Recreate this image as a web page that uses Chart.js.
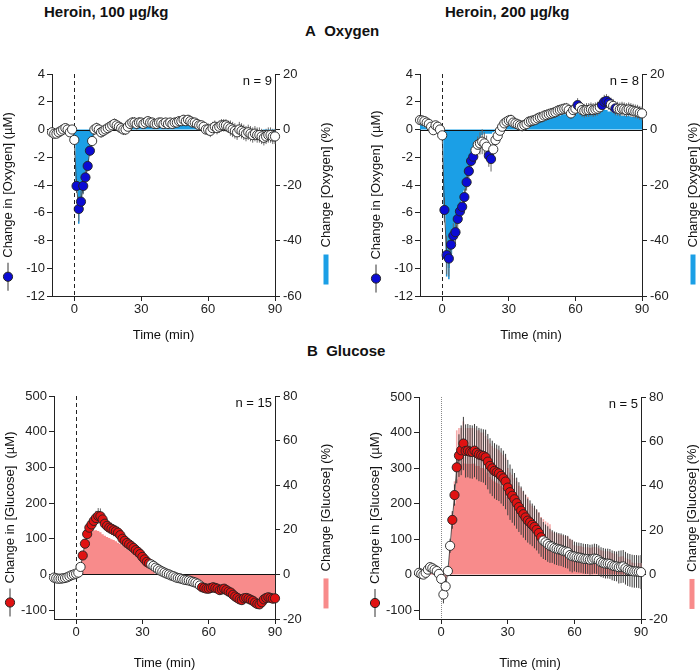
<!DOCTYPE html>
<html>
<head>
<meta charset="utf-8">
<script src="https://cdn.jsdelivr.net/npm/chart.js@4.4.0/dist/chart.umd.min.js"></script>
<style>
  body { margin: 0; background: #fff; font-family: "Liberation Sans", Arial, sans-serif; }
  #wrap { position: relative; width: 700px; height: 672px; overflow: hidden; }
  canvas { position: absolute; }
  .hd { position: absolute; font-weight: bold; font-size: 15px; color: #111; white-space: nowrap; }
</style>
</head>
<body>
<div id="wrap">
  <div class="hd" style="left:44px;top:3px">Heroin, 100 µg/kg</div>
  <div class="hd" style="left:445px;top:3px">Heroin, 200 µg/kg</div>
  <div class="hd" style="left:305px;top:22px">A&nbsp;&nbsp;Oxygen</div>
  <div class="hd" style="left:307px;top:342px">B&nbsp;&nbsp;Glucose</div>
  <canvas id="oxy100" width="350" height="290" style="left:0;top:60px"></canvas>
  <canvas id="oxy200" width="350" height="290" style="left:350px;top:60px"></canvas>
  <canvas id="glu100" width="350" height="312" style="left:0;top:360px"></canvas>
  <canvas id="glu200" width="350" height="312" style="left:350px;top:360px"></canvas>
</div>
<script>
// Zeit (min), 1-min Raster
const minutes = [
  -10,-9,-8,-7,-6,-5,-4,-3,-2,-1,
  0,1,2,3,4,5,6,7,8,9,
  10,11,12,13,14,15,16,17,18,19,
  20,21,22,23,24,25,26,27,28,29,
  30,31,32,33,34,35,36,37,38,39,
  40,41,42,43,44,45,46,47,48,49,
  50,51,52,53,54,55,56,57,58,59,
  60,61,62,63,64,65,66,67,68,69,
  70,71,72,73,74,75,76,77,78,79,
  80,81,82,83,84,85,86,87,88,89,
  90];

// Achsen-Ticks
const timeTicks = [0, 30, 60, 90];
const oxyTicks = [-12, -10, -8, -6, -4, -2, 0, 2, 4];
const oxyPctTicks = [-60, -40, -20, 0, 20];
const gluTicks = [-100, 0, 100, 200, 300, 400, 500];
const gluPctTicks = [-20, 0, 20, 40, 60, 80];

// Sauerstoff, 100 µg/kg (µM, SEM, %)
const oxy100Mean = [
  -0.2,-0.3,-0.3,-0.2,-0.1,0.0,0.1,0.0,-0.2,0.0,
  -0.75,-4.07,-5.73,-5.2,-4.07,-3.45,-2.63,-1.53,-0.83,0.0,
  0.1,0.0,-0.2,-0.1,0.0,0.1,0.2,0.3,0.4,0.3,
  0.2,0.1,0.0,0.0,0.2,0.4,0.5,0.5,0.4,0.5,
  0.5,0.4,0.5,0.6,0.5,0.5,0.4,0.4,0.5,0.5,
  0.4,0.5,0.4,0.5,0.4,0.5,0.5,0.6,0.6,0.7,
  0.6,0.7,0.6,0.5,0.5,0.4,0.3,0.3,0.2,0.0,
  0.0,-0.1,0.1,0.2,0.1,0.2,0.3,0.3,0.3,0.2,
  0.1,0.0,-0.1,-0.2,0.0,-0.1,-0.2,-0.3,-0.2,-0.3,
  -0.4,-0.3,-0.4,-0.4,-0.5,-0.6,-0.5,-0.4,-0.4,-0.5,
  -0.5];
const oxy100Sem = [
  0.2,0.2,0.2,0.2,0.2,0.2,0.2,0.2,0.2,0.2,
  0.3,0.5,0.9,0.8,0.6,0.5,0.4,0.4,0.3,0.4,
  0.4,0.4,0.4,0.4,0.4,0.4,0.4,0.4,0.4,0.4,
  0.4,0.4,0.4,0.4,0.4,0.4,0.4,0.4,0.4,0.4,
  0.35,0.35,0.35,0.35,0.35,0.35,0.35,0.35,0.35,0.35,
  0.35,0.35,0.35,0.35,0.35,0.35,0.35,0.35,0.35,0.35,
  0.35,0.35,0.35,0.35,0.35,0.35,0.35,0.35,0.35,0.35,
  0.45,0.45,0.45,0.45,0.45,0.45,0.45,0.45,0.45,0.45,
  0.55,0.55,0.55,0.55,0.55,0.55,0.55,0.55,0.55,0.55,
  0.55,0.55,0.55,0.55,0.55,0.55,0.55,0.55,0.55,0.55,
  0.55];
const oxy100Pct = [
  0,0,0,0,0,0,0,0,0,0,
  -4,-19,-27,-25,-20,-16,-12,-8,-3,-1,
  0,0,0,0,0,0,0,0,0,0,
  0,0,0,0,0,0,0.5,0.5,1,1,
  1.5,1.5,2,2,1.5,1.5,1,1,1.5,1.5,
  1,1,1,1,1,1,1,1.5,2,2,
  2.5,2.5,2,1.5,1,0.5,0,0,0,0,
  0,0,0,0,0,0,0,0,0,0,
  0,0,0,0,0,0,0,0,0,0,
  0,0,0,0,0,-0.5,-1,-1,-1,-1,
  -1];
const oxy100PctErr = [0,0,0,0,0,0,0,0,0,0, 0,3,7,5,3,2,1,0,0,0];
const oxy100Sig = [[1, 7]];

// Sauerstoff, 200 µg/kg
const oxy200Mean = [
  0.68,0.65,0.6,0.5,0.4,0.2,-0.05,0.3,0.2,0.0,
  -0.42,-5.8,-9.05,-9.3,-8.3,-7.65,-7.4,-6.45,-5.9,-5.57,
  -4.87,-3.8,-3.0,-2.27,-1.96,-1.5,-1.1,-1.0,-0.88,-1.0,
  -1.24,-1.89,-2.13,-1.43,-0.76,-0.47,-0.09,0.2,0.44,0.56,
  0.65,0.68,0.5,0.44,0.37,0.3,0.25,0.32,0.4,0.56,
  0.6,0.65,0.7,0.8,0.87,0.9,1.0,1.04,1.1,1.15,
  1.2,1.25,1.35,1.4,1.45,1.5,1.52,1.4,1.16,1.4,
  1.5,1.76,1.6,1.4,1.35,1.4,1.4,1.45,1.4,1.45,
  1.5,1.6,1.76,2.0,2.05,1.93,1.8,1.7,1.52,1.5,
  1.45,1.5,1.45,1.4,1.45,1.4,1.35,1.3,1.28,1.2,
  1.16];
const oxy200Sem = [
  0.2,0.2,0.2,0.2,0.2,0.2,0.2,0.2,0.2,0.2,
  0.3,0.9,1.4,1.3,1.1,0.9,0.8,0.8,0.7,0.6,
  0.6,0.6,0.5,0.5,0.5,0.5,0.6,0.8,0.9,0.8,
  0.8,0.8,0.9,0.6,0.5,0.4,0.4,0.4,0.4,0.4,
  0.4,0.4,0.4,0.4,0.4,0.4,0.4,0.4,0.4,0.4,
  0.4,0.4,0.4,0.4,0.4,0.4,0.4,0.4,0.4,0.4,
  0.4,0.4,0.4,0.4,0.4,0.4,0.4,0.4,0.4,0.4,
  0.5,0.5,0.5,0.5,0.5,0.5,0.5,0.5,0.5,0.5,
  0.5,0.5,0.5,0.5,0.5,0.5,0.5,0.5,0.5,0.5,
  0.5,0.5,0.5,0.5,0.5,0.5,0.5,0.5,0.5,0.5,
  0.5];
const oxy200Pct = [
  2,1.5,1,0.5,0,0,0,0,0,0,
  -2,-30,-48,-50,-45,-40,-36,-32,-29,-25,
  -22,-18,-14,-11,-8,-6,-5,-3,-2,-1.5,
  -1.5,-1.5,-1.5,-1,-0.5,-0.3,0,0.5,1.5,2,
  2.5,2.5,2,2,1.5,1.5,1.5,2,2,2.5,
  2.5,2.5,3,3,3.5,3.5,4,4,4,4.5,
  4.5,5,5,5,5.5,5.5,5.5,5,5,5,
  5.5,6,5.5,5.5,5.5,5.5,6,6,6,6,
  6.5,6.5,7,7,7,6.5,6.5,6,6,5.5,
  5.5,5,5,5,5,4.5,4.5,4.5,4.5,4.5,
  4.5];
const oxy200PctErr = [0,0,0,0,0,0,0,0,0,0, 0,2,5,4,2,1,1,0,0,0];
const oxy200Sig = [[1, 14], [21, 22], [61, 61], [72, 75], [78, 78]];

// Glukose, 100 µg/kg
const glu100Mean = [
  -9,-11,-12,-12,-11,-10,-8,-5,-2,0,
  2,5,21,53,86,113,131,140,150,158,
  164,163,154,142,136,131,128,124,121,117,
  110,100,94,88,84,79,74,68,63,57,
  49,42,35,31,28,24,19,15,11,8,
  5,2,0,-3,-5,-8,-10,-11,-13,-15,
  -16,-17,-19,-21,-23,-26,-31,-36,-38,-40,
  -40,-38,-36,-38,-40,-44,-42,-40,-44,-48,
  -51,-57,-62,-66,-70,-72,-67,-66,-68,-71,
  -74,-79,-83,-84,-78,-70,-66,-64,-66,-68,
  -67];
const glu100Sem = [
  5,5,5,5,5,5,5,5,5,5,
  5,6,8,10,12,14,15,16,18,20,
  22,22,20,18,17,17,17,17,17,17,
  17,17,17,17,17,17,17,17,17,17,
  16,16,15,15,14,14,13,13,13,13,
  12,12,12,12,12,12,12,12,12,12,
  12,12,12,12,12,12,12,12,12,12,
  13,13,13,13,13,13,13,13,13,13,
  13,13,13,13,13,13,13,13,13,13,
  13,13,13,13,13,13,13,13,13,13,
  13];
const glu100Pct = [
  0,0,0,0,0,0,0,0,0,0,
  0,0,3.2,8,12,15.2,17.9,19.2,19.7,19.8,
  19.5,18.9,18,17.3,16.8,16.3,15.8,15.4,14.9,14.2,
  13.6,13,12.3,11.5,10.7,9.9,9.1,8.2,7.2,6.4,
  5.6,4.8,4.2,3.4,2.4,1.3,0.3,0,0,0,
  -0.2,-0.3,-0.4,-0.5,-0.6,-0.7,-0.8,-0.9,-1,-1.2,
  -1.5,-2,-2.5,-3,-3.3,-3.6,-4,-4.6,-5,-5.5,
  -5.7,-5.6,-5.5,-5.8,-6.1,-6.6,-6.5,-6.4,-6.8,-7.2,
  -7.6,-8.2,-8.7,-9.1,-9.5,-9.7,-9.3,-9.2,-9.4,-9.7,
  -10,-10.5,-10.9,-11,-10.4,-9.6,-9.2,-9,-9.2,-9.4,
  -9.4];
const glu100PctErr = [];
const glu100Sig = [[3, 33], [57, 90]];

// Glukose, 200 µg/kg
const glu200Mean = [
  5,2,0,5,14,21,18,14,10,2,
  -12,-56,-33,10,81,154,224,302,335,350,
  369,348,349,346,345,349,343,338,336,334,
  330,318,306,299,292,288,285,278,271,262,
  245,232,222,212,201,190,180,170,161,152,
  147,140,134,126,117,105,96,91,86,81,
  79,75,73,71,70,67,65,63,55,52,
  51,49,48,47,45,44,44,42,43,45,
  44,40,35,33,31,31,30,26,24,23,
  21,22,23,18,14,12,10,9,9,8,
  7];
const glu200Sem = [
  8,8,8,8,8,8,8,8,8,8,
  12,25,20,15,20,25,30,45,60,70,
  75,75,75,75,75,75,75,75,75,75,
  78,78,78,78,78,78,78,78,78,78,
  78,78,76,74,72,70,68,66,64,62,
  62,60,60,58,58,55,52,50,50,48,
  46,46,46,46,46,46,46,46,46,46,
  42,42,42,42,42,42,42,42,42,42,
  42,42,42,42,42,42,42,42,42,42,
  46,46,46,46,46,46,46,46,46,46,
  48];
const glu200Pct = [
  0.7,0.3,0,0.7,2,3,2.6,2,1.4,0.3,
  -1,-3,-2,1.4,11.7,22,32,43,48,50,
  53,50,50,50,50,50,49,49,48,48,
  47.5,46,44,43,42,41.5,41,40,39,37.7,
  35,33,32,30.5,29,27,26,24.5,23,22,
  21,20,19,18,17,15,14,13,12.4,11.7,
  11.4,10.8,10.5,10.2,10,9.6,9.4,9,8,7.5,
  7.3,7,6.9,6.8,6.5,6.3,6.3,6,6.2,6.5,
  6.3,5.8,5,4.8,4.5,4.5,4.3,3.7,3.5,3.3,
  3,3.2,3.3,2.6,2,1.7,0.5,0.3,0.3,0.2,
  0.2];
const glu200PctErr = [
  0,0,0,0,0,0,0,0,0,0,
  0,0,0,0,3,6,10,22,18,16,
  16,16,16,16,16,16,16,16,16,16,
  15,15,15,15,15,15,15,15,15,15,
  13,13,13,13,13,13,13,13,13,13,
  11,11,11,11,11,11,11,11,11,11,
  8,8,8,8,8,8,8,8,8,8,
  6,6,6,6,6,6,6,6,6,6,
  6,6,6,6,6,6,6,6,6,6,
  5,5,5,5,5,5,5,5,5,5,
  5];
const glu200Sig = [[5, 45]];

const FONT = '"Liberation Sans", Arial, sans-serif';

// Fehlerbalken, Nulllinie, Achsentitel
const panelPlugin = {
  id: 'panel',
  beforeDatasetsDraw(chart, args, o) {
    const { ctx, chartArea: a, scales: { x } } = chart;
    const px = Math.round(x.getPixelForValue(0)) + 0.5;
    ctx.save();
    ctx.strokeStyle = o.dashColor;
    ctx.lineWidth = 1;
    ctx.setLineDash(o.dash);
    ctx.beginPath();
    ctx.moveTo(px, a.top);
    ctx.lineTo(px, a.bottom);
    ctx.stroke();
    ctx.restore();
  },
  beforeDatasetDraw(chart, args, o) {
    if (args.index !== 0) return;
    const { ctx, scales: { x, y, y1 } } = chart;
    ctx.save();
    // Nulllinie
    const y0 = Math.round(y.getPixelForValue(0)) + 0.5;
    ctx.strokeStyle = '#111';
    ctx.lineWidth = 1;
    ctx.beginPath();
    ctx.moveTo(x.getPixelForValue(o.zeroFrom), y0);
    ctx.lineTo(x.getPixelForValue(90), y0);
    ctx.stroke();
    // Fehler der %-Balken
    ctx.strokeStyle = o.pctErrColor;
    ctx.lineWidth = o.pctErrWidth;
    minutes.forEach((t, i) => {
      const e = o.pctErr[i] || 0;
      if (!e) return;
      const v = o.pct[i];
      const xp = x.getPixelForValue(t);
      ctx.beginPath();
      ctx.moveTo(xp, y1.getPixelForValue(v));
      ctx.lineTo(xp, y1.getPixelForValue(v < 0 ? v - e : v + e));
      ctx.stroke();
    });
    // SEM
    ctx.strokeStyle = o.errColor;
    ctx.lineWidth = 1;
    minutes.forEach((t, i) => {
      const xp = x.getPixelForValue(t);
      ctx.beginPath();
      ctx.moveTo(xp, y.getPixelForValue(o.mean[i] - o.sem[i]));
      ctx.lineTo(xp, y.getPixelForValue(o.mean[i] + o.sem[i]));
      ctx.stroke();
    });
    ctx.restore();
  },
  afterDraw(chart, args, o) {
    const { ctx, chartArea: a } = chart;
    const cy = (a.top + a.bottom) / 2;
    ctx.save();
    ctx.font = '13px ' + FONT;
    ctx.fillStyle = '#111';
    ctx.textBaseline = 'middle';

    // linker Titel + Punkt-Symbol
    ctx.save();
    ctx.translate(a.left - 44, cy);
    ctx.rotate(-Math.PI / 2);
    ctx.textAlign = 'center';
    ctx.fillText(o.leftTitle, 0, 0);
    let w = ctx.measureText(o.leftTitle).width;
    let mx = -w / 2 - 19;
    ctx.strokeStyle = '#333';
    ctx.lineWidth = 1;
    ctx.beginPath();
    ctx.moveTo(mx - 14, 0);
    ctx.lineTo(mx + 14, 0);
    ctx.stroke();
    ctx.beginPath();
    ctx.arc(mx, 0, 4.6, 0, Math.PI * 2);
    ctx.fillStyle = o.dotColor;
    ctx.fill();
    ctx.strokeStyle = '#222';
    ctx.stroke();
    ctx.restore();

    // rechter Titel + Balken-Symbol
    ctx.save();
    ctx.translate(a.right + 51, cy);
    ctx.rotate(-Math.PI / 2);
    ctx.textAlign = 'center';
    ctx.fillStyle = '#111';
    ctx.fillText(o.rightTitle, 0, 0);
    w = ctx.measureText(o.rightTitle).width;
    ctx.fillStyle = o.areaColor;
    ctx.fillRect(-w / 2 - 37, -2.5, 30, 5);
    ctx.restore();

    // n =
    ctx.fillStyle = '#111';
    ctx.textAlign = 'right';
    ctx.fillText(o.nText, a.right - 3, a.top + 7);
    ctx.restore();
  }
};

function axisStyle() {
  return {
    grid: { drawOnChartArea: false, drawTicks: true, tickLength: 5, color: '#222', lineWidth: 1 },
    border: { color: '#222', width: 1 },
    ticks: { font: { family: FONT, size: 13 }, color: '#222', padding: 2 }
  };
}

function buildPanel(id, p) {
  const pts = minutes.map((t, i) => ({ x: t, y: p.mean[i] }));
  const pct = minutes.map((t, i) => ({ x: t, y: p.pct[i] }));
  const fills = minutes.map(t =>
    p.sig.some(r => t >= r[0] && t <= r[1]) ? p.dotColor : '#ffffff');

  const xs = axisStyle();
  const ys = axisStyle();
  const y1s = axisStyle();
  y1s.ticks.padding = 3;

  new Chart(document.getElementById(id), {
    type: 'line',
    data: {
      datasets: [{
        data: pts,
        yAxisID: 'y',
        borderColor: '#333',
        borderWidth: 0.8,
        pointRadius: 4.6,
        pointBackgroundColor: fills,
        pointBorderColor: '#222',
        pointBorderWidth: 0.9,
        clip: false,
        order: 0
      }, {
        data: pct,
        yAxisID: 'y1',
        stepped: 'middle',
        fill: 'origin',
        backgroundColor: p.areaColor,
        borderWidth: 0,
        pointRadius: 0,
        order: 1
      }]
    },
    options: {
      responsive: false,
      animation: false,
      events: [],
      layout: { padding: { top: p.padTop, left: 0, right: 0, bottom: 0 } },
      plugins: {
        legend: { display: false },
        tooltip: { enabled: false },
        panel: {
          mean: p.mean, sem: p.sem, pct: p.pct, pctErr: p.pctErr,
          pctErrColor: p.pctErrColor, pctErrWidth: p.pctErrWidth,
          errColor: p.errColor, zeroFrom: p.zeroFrom,
          dash: p.dash, dashColor: p.dashColor,
          leftTitle: p.leftTitle, rightTitle: p.rightTitle,
          dotColor: p.dotColor, areaColor: p.areaColor, nText: p.nText
        }
      },
      scales: {
        x: {
          type: 'linear', position: 'bottom', min: -10, max: 90,
          ...xs,
          ticks: { ...xs.ticks, padding: 1 },
          afterBuildTicks: s => { s.ticks = timeTicks.map(v => ({ value: v })); },
          afterFit: s => { s.height = p.xH; },
          title: {
            display: true, text: 'Time (min)', color: '#111',
            font: { family: FONT, size: 13 },
            padding: { top: 0, bottom: p.titlePad }
          }
        },
        y: {
          type: 'linear', position: 'left', min: p.yMin, max: p.yMax,
          ...ys,
          afterBuildTicks: s => { s.ticks = p.yTicks.map(v => ({ value: v })); },
          afterFit: s => { s.width = p.leftW; }
        },
        y1: {
          type: 'linear', position: 'right', min: p.y1Min, max: p.y1Max,
          ...y1s,
          afterBuildTicks: s => { s.ticks = p.y1Ticks.map(v => ({ value: v })); },
          afterFit: s => { s.width = p.rightW; }
        }
      }
    },
    plugins: [panelPlugin]
  });
}

const oxyArea = '#1b9fe6';
const oxyDot = '#0b0bd4';
const gluArea = '#f88b8b';
const gluDot = '#e01212';

buildPanel('oxy100', {
  mean: oxy100Mean, sem: oxy100Sem, pct: oxy100Pct, pctErr: oxy100PctErr, sig: oxy100Sig,
  yMin: -12, yMax: 4, yTicks: oxyTicks, y1Min: -60, y1Max: 20, y1Ticks: oxyPctTicks,
  padTop: 14, leftW: 52, rightW: 75, xH: 54, titlePad: 7,
  areaColor: oxyArea, dotColor: oxyDot, pctErrColor: '#1690d8', pctErrWidth: 1.5,
  errColor: '#6a6a6a', zeroFrom: 0, dash: [4, 3], dashColor: '#222',
  leftTitle: 'Change in [Oxygen] (µM)', rightTitle: 'Change [Oxygen] (%)', nText: 'n = 9'
});
buildPanel('oxy200', {
  mean: oxy200Mean, sem: oxy200Sem, pct: oxy200Pct, pctErr: oxy200PctErr, sig: oxy200Sig,
  yMin: -12, yMax: 4, yTicks: oxyTicks, y1Min: -60, y1Max: 20, y1Ticks: oxyPctTicks,
  padTop: 14, leftW: 70, rightW: 58, xH: 54, titlePad: 7,
  areaColor: oxyArea, dotColor: oxyDot, pctErrColor: '#1690d8', pctErrWidth: 1.5,
  errColor: '#6a6a6a', zeroFrom: -10, dash: [4, 3], dashColor: '#222',
  leftTitle: 'Change in [Oxygen]  (µM)', rightTitle: 'Change [Oxygen] (%)', nText: 'n = 8'
});
buildPanel('glu100', {
  mean: glu100Mean, sem: glu100Sem, pct: glu100Pct, pctErr: glu100PctErr, sig: glu100Sig,
  yMin: -125, yMax: 500, yTicks: gluTicks, y1Min: -20, y1Max: 80, y1Ticks: gluPctTicks,
  padTop: 36, leftW: 54, rightW: 75, xH: 53, titlePad: 1,
  areaColor: gluArea, dotColor: gluDot, pctErrColor: '#f6aaaa', pctErrWidth: 1.6,
  errColor: '#666', zeroFrom: 2, dash: [4, 3], dashColor: '#222',
  leftTitle: 'Change in [Glucose]  (µM)', rightTitle: 'Change [Glucose] (%)', nText: 'n = 15'
});
buildPanel('glu200', {
  mean: glu200Mean, sem: glu200Sem, pct: glu200Pct, pctErr: glu200PctErr, sig: glu200Sig,
  yMin: -125, yMax: 500, yTicks: gluTicks, y1Min: -20, y1Max: 80, y1Ticks: gluPctTicks,
  padTop: 37, leftW: 69, rightW: 59, xH: 53, titlePad: 1,
  areaColor: gluArea, dotColor: gluDot, pctErrColor: '#f6aaaa', pctErrWidth: 1.6,
  errColor: '#3c3c3c', zeroFrom: 3, dash: [1, 1], dashColor: '#888',
  leftTitle: 'Change in [Glucose]  (µM)', rightTitle: 'Change [Glucose] (%)', nText: 'n = 5'
});
</script>
</body>
</html>
